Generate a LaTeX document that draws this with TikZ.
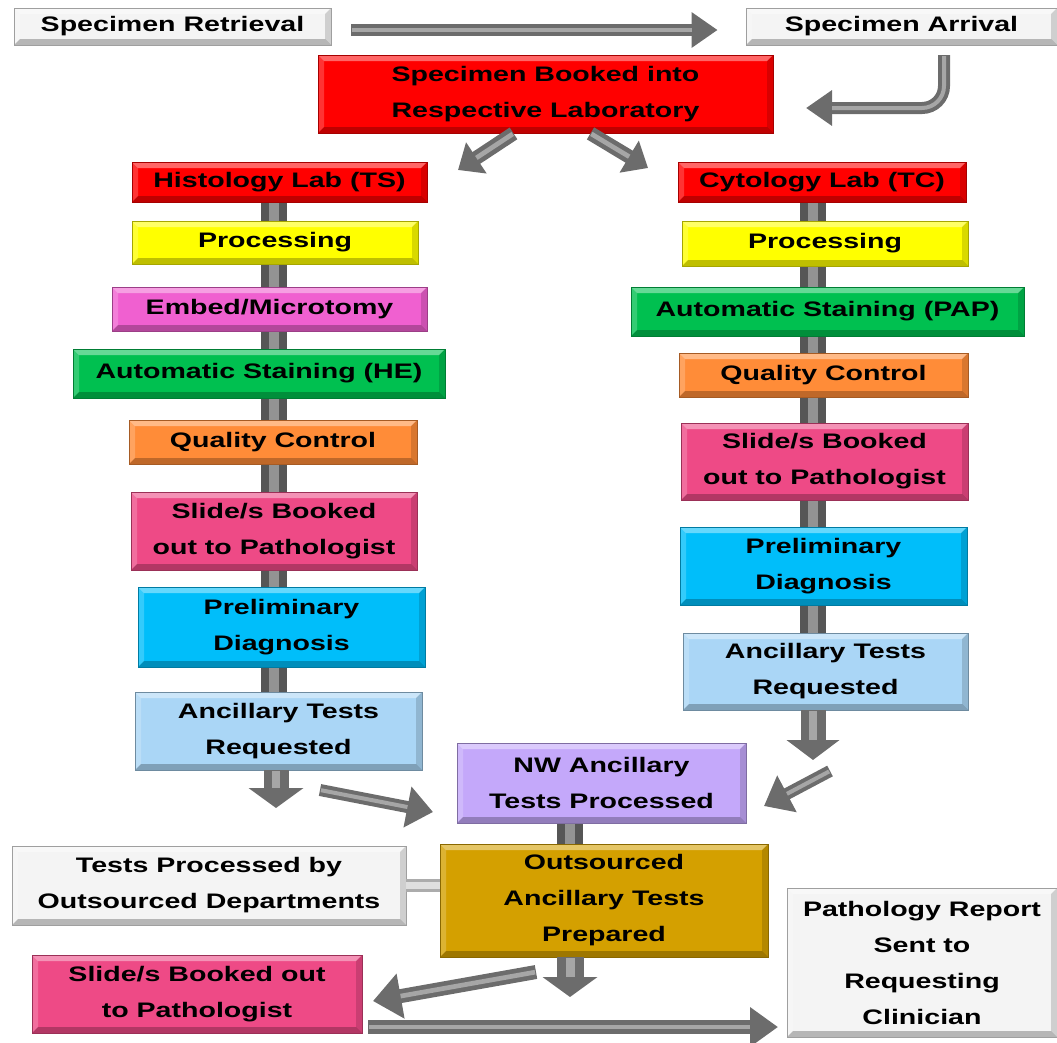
\documentclass[tikz,border=0pt]{standalone}
\usepackage{fontspec}
\setmainfont{Liberation Sans}[FakeStretch=1.36]
\usetikzlibrary{arrows.meta,backgrounds}
\definecolor{labred}{RGB}{255,0,0}
\definecolor{labyellow}{RGB}{255,255,0}
\definecolor{labmagenta}{RGB}{240,96,208}
\definecolor{labgreen}{RGB}{0,192,80}
\definecolor{laborange}{RGB}{255,140,56}
\definecolor{labpink}{RGB}{238,74,134}
\definecolor{labcyan}{RGB}{0,190,250}
\definecolor{labsky}{RGB}{170,214,246}
\definecolor{lablilac}{RGB}{196,168,250}
\definecolor{labgold}{RGB}{212,160,0}
\definecolor{labwhite}{RGB}{244,244,244}
\definecolor{arrowgrey}{RGB}{108,108,108}
\tikzset{
	bevel/.style={path picture={
		\fill[white,opacity=.4] (path picture bounding box.north west) -- (path picture bounding box.north east)
			-- ([shift={(-6pt,-6pt)}]path picture bounding box.north east) -- ([shift={(6pt,-6pt)}]path picture bounding box.north west) -- cycle;
		\fill[white,opacity=.2] (path picture bounding box.north west) -- (path picture bounding box.south west)
			-- ([shift={(6pt,6pt)}]path picture bounding box.south west) -- ([shift={(6pt,-6pt)}]path picture bounding box.north west) -- cycle;
		\fill[black,opacity=.25] (path picture bounding box.south west) -- (path picture bounding box.south east)
			-- ([shift={(-6pt,6pt)}]path picture bounding box.south east) -- ([shift={(6pt,6pt)}]path picture bounding box.south west) -- cycle;
		\fill[black,opacity=.15] (path picture bounding box.north east) -- (path picture bounding box.south east)
			-- ([shift={(-6pt,6pt)}]path picture bounding box.south east) -- ([shift={(-6pt,-6pt)}]path picture bounding box.north east) -- cycle;
	}},
	box/.style={draw=#1!65!black, fill=#1, line width=.8pt, inner sep=0pt, align=center,
		font=\bfseries\fontsize{21}{36}\selectfont, bevel},
	bigarrow/.style n args={3}{draw=arrowgrey, line width=#1, -{Triangle[length=#2,width=#3]},
		postaction={draw=gray!70, line width=#1/3, -, shorten >=#2, shorten <=1pt}},
	spine/.style={draw=arrowgrey!80!black, double=gray!85, line width=8pt, double distance=10pt},
	linkbar/.style={draw=gray!65, double=gray!25, line width=3pt, double distance=7pt}
}
\begin{document}
\begin{tikzpicture}[x=1pt,y=-1pt]
		\useasboundingbox (0,0) rectangle (1057,1042);
		\node[box=labwhite, minimum width=317, minimum height=37] (ret) at (172.5,26.5) {Specimen Retrieval};
		\node[box=labwhite, minimum width=311, minimum height=37] (arr) at (901.5,26.5) {Specimen Arrival};
		\node[box=labred, minimum width=455, minimum height=78] (book) at (545.5,94) {Specimen Booked into\\Respective Laboratory};
		
		\node[box=labred, minimum width=295, minimum height=40] (hist) at (279.5,182) {Histology Lab (TS)};
		\node[box=labyellow, minimum width=286, minimum height=43] (hproc) at (275,242.5) {Processing};
		\node[box=labmagenta, minimum width=315, minimum height=44] (embed) at (269.5,309) {Embed/Microtomy};
		\node[box=labgreen, minimum width=372, minimum height=49] (hstain) at (259,373.5) {Automatic Staining (HE)};
		\node[box=laborange, minimum width=288, minimum height=44] (hqc) at (273,442) {Quality Control};
		\node[box=labpink, minimum width=286, minimum height=78] (hslide) at (274,531) {Slide/s Booked\\out to Pathologist};
		\node[box=labcyan, minimum width=287, minimum height=80] (hprelim) at (281.5,627) {Preliminary\\Diagnosis};
		\node[box=labsky, minimum width=287, minimum height=78] (hanc) at (278.5,731) {Ancillary Tests\\Requested};
		
		\node[box=labred, minimum width=288, minimum height=40] (cyto) at (822,182) {Cytology Lab (TC)};
		\node[box=labyellow, minimum width=286, minimum height=45] (cproc) at (825,243.5) {Processing};
		\node[box=labgreen, minimum width=393, minimum height=49] (cstain) at (827.5,311.5) {Automatic Staining (PAP)};
		\node[box=laborange, minimum width=289, minimum height=44] (cqc) at (823.5,375) {Quality Control};
		\node[box=labpink, minimum width=287, minimum height=77] (cslide) at (824.5,461.5) {Slide/s Booked\\out to Pathologist};
		\node[box=labcyan, minimum width=287, minimum height=78] (cprelim) at (823.5,566) {Preliminary\\Diagnosis};
		\node[box=labsky, minimum width=285, minimum height=77] (canc) at (825.5,671.5) {Ancillary Tests\\Requested};
		
		\node[box=lablilac, minimum width=289, minimum height=80] (nw) at (601.5,783) {NW Ancillary\\Tests Processed};
		\node[box=labgold, minimum width=328, minimum height=113] (outs) at (604,900.5) {Outsourced\\Ancillary Tests\\Prepared};
		\node[box=labwhite, minimum width=394, minimum height=79] (ext) at (209,885.5) {Tests Processed by\\Outsourced Departments};
		\node[box=labpink, minimum width=330, minimum height=78] (slide) at (197,994) {Slide/s Booked out\\to Pathologist};
		\node[box=labwhite, minimum width=270, minimum height=149] (report) at (922,962.5) {Pathology Report\\Sent to\\Requesting\\Clinician};
		
		\coordinate (hspine) at (274,182);
		\coordinate (cspine) at (813,182);
		\coordinate (stem) at (570,783);
		\begin{scope}[on background layer]
		\draw[spine] (hspine) -- (hspine |- hanc.center);
		\draw[spine] (cspine) -- (cspine |- canc.center);
		\draw[spine] (stem) -- (stem |- outs.center);
		\end{scope}
		\draw[linkbar] (ext.east) -- (ext.east -| outs.west);
		
		\coordinate (bendtop) at (944,55);
		\coordinate (bend) at (944,108);
		\coordinate (bendtip) at (806,108);
		\coordinate (hin) at (458,170);
		\coordinate (cin) at (648,168);
		\coordinate (hout) at (276,808);
		\coordinate (hfrom) at (320,790);
		\coordinate (hto) at (433,812);
		\coordinate (cout) at (813,760);
		\coordinate (cfrom) at (830,771);
		\coordinate (cto) at (764,806);
		\coordinate (oout) at (570,997);
		\coordinate (ofrom) at (536,972);
		\coordinate (oto) at (373,1001);
		\coordinate (sfrom) at (368,1027);
		\coordinate (sto) at (778,1027);
		
		\draw[bigarrow={12pt}{26pt}{34pt}] ([xshift=20pt,yshift=-3.5pt]ret.east) -- ([xshift=-28pt,yshift=-3.5pt]arr.west);
		\draw[bigarrow={12pt}{26pt}{34pt}, rounded corners=22pt] (bendtop) -- (bend) -- (bendtip);
		\draw[bigarrow={14pt}{22pt}{36pt}] ([xshift=-32pt]book.south) -- (hin);
		\draw[bigarrow={14pt}{22pt}{36pt}] ([xshift=45pt]book.south) -- (cin);
		\draw[bigarrow={25pt}{20pt}{54pt}] (hout |- hanc.south) -- (hout);
		\draw[bigarrow={12pt}{26pt}{40pt}] (hfrom) -- (hto);
		\draw[bigarrow={25pt}{20pt}{52pt}] (cout |- canc.south) -- (cout);
		\draw[bigarrow={12pt}{26pt}{40pt}] (cfrom) -- (cto);
		\draw[bigarrow={27pt}{20pt}{54pt}] (oout |- outs.south) -- (oout);
		\draw[bigarrow={14pt}{28pt}{44pt}] (ofrom) -- (oto);
		\draw[bigarrow={14pt}{28pt}{38pt}] (sfrom) -- (sto);
		\end{tikzpicture}
\end{document}
